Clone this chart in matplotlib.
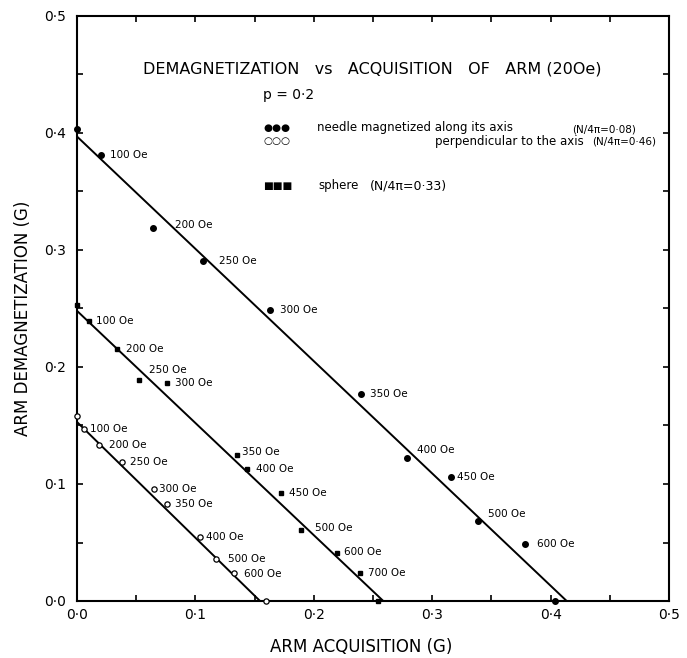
import matplotlib
matplotlib.use("Agg")
import matplotlib.pyplot as plt
import numpy as np

# ---------------- data ----------------
# needle magnetized along its axis (filled circles)
needle_x = [0.0, 0.020, 0.064, 0.106, 0.163, 0.240, 0.279, 0.316, 0.339, 0.378, 0.404]
needle_y = [0.403, 0.381, 0.319, 0.291, 0.249, 0.177, 0.122, 0.106, 0.068, 0.049, 0.0]
needle_lab = ["", "100 Oe", "200 Oe", "250 Oe", "300 Oe", "350 Oe", "400 Oe",
              "450 Oe", "500 Oe", "600 Oe", ""]

# sphere (small squares)
sphere_x = [0.0, 0.010, 0.034, 0.052, 0.076, 0.135, 0.144, 0.172, 0.189, 0.220, 0.239, 0.254]
sphere_y = [0.253, 0.239, 0.215, 0.189, 0.186, 0.125, 0.113, 0.092, 0.061, 0.041, 0.024, 0.0]
sphere_lab = ["", "100 Oe", "200 Oe", "250 Oe", "300 Oe", "350 Oe", "400 Oe",
              "450 Oe", "500 Oe", "600 Oe", "700 Oe", ""]

# perpendicular to the axis (open circles)
perp_x = [0.0, 0.006, 0.019, 0.038, 0.065, 0.076, 0.104, 0.117, 0.133, 0.160]
perp_y = [0.158, 0.147, 0.133, 0.119, 0.096, 0.083, 0.055, 0.036, 0.024, 0.0]
perp_lab = ["", "100 Oe", "200 Oe", "250 Oe", "300 Oe", "350 Oe", "400 Oe",
            "500 Oe", "600 Oe", ""]

# fitted straight lines: intercepts on the y axis and on the x axis
line_y0 = [0.397, 0.248, 0.153]
line_x0 = [0.4136, 0.2587, 0.1546]

tick_vals = [0.0, 0.1, 0.2, 0.3, 0.4, 0.5]
tick_labels = ["0·0", "0·1", "0·2", "0·3", "0·4", "0·5"]

# label offsets in pixels (layout only)
needle_off = [None, (9, 0), (22, 3), (16, 0), (10, 0), (9, 0), (10, 8), (6, 0), (10, 7), (12, 0), None]
sphere_off = [None, (7, 0), (9, 0), (10, 10), (8, 0), (5, 3), (9, 0), (8, 0), (14, 2), (7, 1), (8, 0), None]
perp_off = [None, (6, 0), (10, 0), (8, 0), (5, 0), (8, 0), (6, 0), (12, 0), (10, -1), None]

# ---------------- figure ----------------
W, H = 687, 658
fig = plt.figure(figsize=(W / 100, H / 100), dpi=100)
plt.rcParams['font.family'] = ['DejaVu Sans']

L, R, T, B = 77, 669, 16, 601
ax = fig.add_axes([L / W, 1 - B / H, (R - L) / W, (B - T) / H])
ax.set_xlim(0, 0.5)
ax.set_ylim(0, 0.5)

for s in ax.spines.values():
    s.set_linewidth(1.5)

minor = np.arange(0, 0.501, 0.05)
ax.set_xticks(tick_vals)
ax.set_xticklabels(tick_labels)
ax.set_yticks(tick_vals)
ax.set_yticklabels(tick_labels)
ax.set_xticks(minor, minor=True)
ax.set_yticks(minor, minor=True)
ax.tick_params(which='both', direction='in', length=4, width=1.2,
               top=True, right=True, labelsize=10, colors='black')
ax.tick_params(axis='x', which='major', pad=5)
ax.tick_params(axis='y', which='major', pad=8)

lc = 'black'
# fitted lines
for y0, x0 in zip(line_y0, line_x0):
    ax.plot([0, x0], [y0, 0], color=lc, lw=1.4, zorder=2)

ax.plot(needle_x, needle_y, 'o', ms=4, color=lc, zorder=3, clip_on=False)
ax.plot(sphere_x, sphere_y, 's', ms=3, color=lc, zorder=3, clip_on=False)
ax.plot(perp_x, perp_y, 'o', ms=3.8, mfc='white', mec=lc, mew=0.9, zorder=3, clip_on=False)

def label(xs, ys, labs, offs):
    for x, y, t, o in zip(xs, ys, labs, offs):
        if t and o is not None:
            ax.annotate(t, (x, y), xytext=o, textcoords='offset pixels',
                        ha='left', va='center', fontsize=7.5)

label(needle_x, needle_y, needle_lab, needle_off)
label(sphere_x, sphere_y, sphere_lab, sphere_off)
label(perp_x, perp_y, perp_lab, perp_off)

def ftext(px, py, s, **kw):
    fig.text(px / W, 1 - py / H, s, **kw)

ftext(143, 69, "DEMAGNETIZATION   vs   ACQUISITION   OF   ARM (20Oe)",
      ha='left', va='center', fontsize=11.5)
ftext(263, 95, "p = 0·2", ha='left', va='center', fontsize=10)
ftext(263, 128, "●●●", ha='left', va='center', fontsize=7.5)
ftext(317, 127, "needle magnetized along its axis", ha='left', va='center', fontsize=8.5)
ftext(572, 129, "(N/4π=0·08)", ha='left', va='center', fontsize=7.5)
ftext(263, 141, "○○○", ha='left', va='center', fontsize=7.5)
ftext(435, 141, "perpendicular to the axis", ha='left', va='center', fontsize=8.5)
ftext(592, 142, "(N/4π=0·46)", ha='left', va='center', fontsize=7.5)
ftext(263, 186, "■■■", ha='left', va='center', fontsize=7.5)
ftext(318, 185, "sphere", ha='left', va='center', fontsize=8.5)
ftext(370, 186, "(N/4π=0·33)", ha='left', va='center', fontsize=9)

ftext(361, 647, "ARM ACQUISITION (G)", ha='center', va='center', fontsize=12)
ftext(23, 318, "ARM DEMAGNETIZATION (G)", ha='center', va='center', fontsize=12,
      rotation=90)

fig.savefig("out.png", dpi=100)
